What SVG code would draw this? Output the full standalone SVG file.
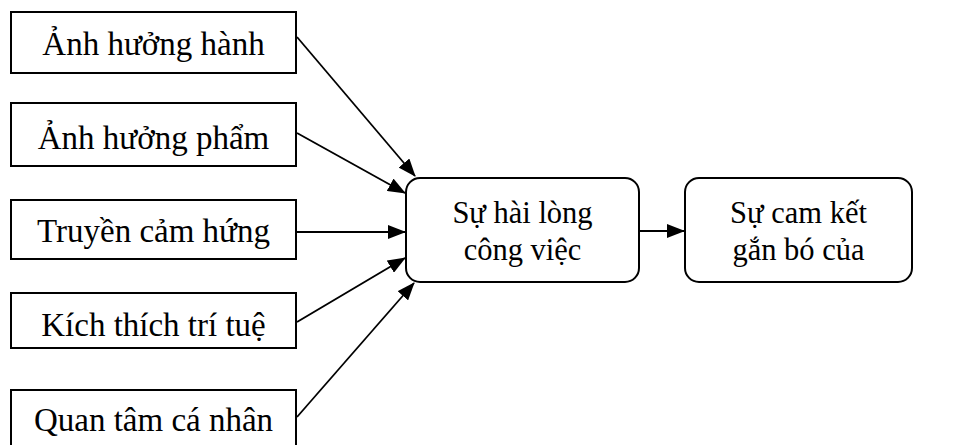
<svg xmlns="http://www.w3.org/2000/svg" width="962" height="445" viewBox="0 0 962 445">
<style>
.box{fill:#fff;stroke:#000;stroke-width:2}
.t{font-family:"Liberation Serif","Times New Roman",serif;font-size:33px;fill:#000;text-anchor:middle}
.m{font-size:30.5px}
.c{stroke:#000;stroke-width:1.8;fill:none;marker-end:url(#ah)}
</style>
<defs>
<marker id="ah" markerWidth="18" markerHeight="14" refX="17" refY="7" orient="auto" markerUnits="userSpaceOnUse">
<path d="M0,0 L18,7 L0,14 Z" fill="#000"/>
</marker>
</defs>
<rect width="962" height="445" fill="#fff"/>
<g id="n1"><rect class="box" x="11" y="12" width="285" height="61"/><text class="t" x="153.5" y="55">Ảnh hưởng hành</text></g>
<g id="n2"><rect class="box" x="11" y="103" width="285" height="63"/><text class="t" x="153.5" y="149">Ảnh hưởng phẩm</text></g>
<g id="n3"><rect class="box" x="11" y="200" width="285" height="59"/><text class="t" x="153.5" y="242">Truyền cảm hứng</text></g>
<g id="n4"><rect class="box" x="11" y="293" width="285" height="55"/><text class="t" x="153.5" y="336">Kích thích trí tuệ</text></g>
<g id="n5"><rect class="box" x="11" y="390" width="285" height="65"/><text class="t" x="153.5" y="431">Quan tâm cá nhân</text></g>
<g id="n6"><rect class="box" x="406" y="178" width="233" height="104" rx="14"/><text class="t m" x="522.5" y="223">Sự hài lòng</text><text class="t m" x="522.5" y="260">công việc</text></g>
<g id="n7"><rect class="box" x="685" y="178" width="227" height="104" rx="14"/><text class="t m" x="798.5" y="223">Sự cam kết</text><text class="t m" x="798.5" y="260">gắn bó của</text></g>
<g id="connectors">
<line class="c" x1="297" y1="37" x2="415" y2="176"/>
<line class="c" x1="297" y1="133" x2="405" y2="193"/>
<line class="c" x1="297" y1="232" x2="405" y2="232"/>
<line class="c" x1="297" y1="322" x2="405" y2="258"/>
<line class="c" x1="297" y1="417" x2="414" y2="283"/>
<line class="c" x1="639" y1="231" x2="684" y2="231"/>
</g>
</svg>
